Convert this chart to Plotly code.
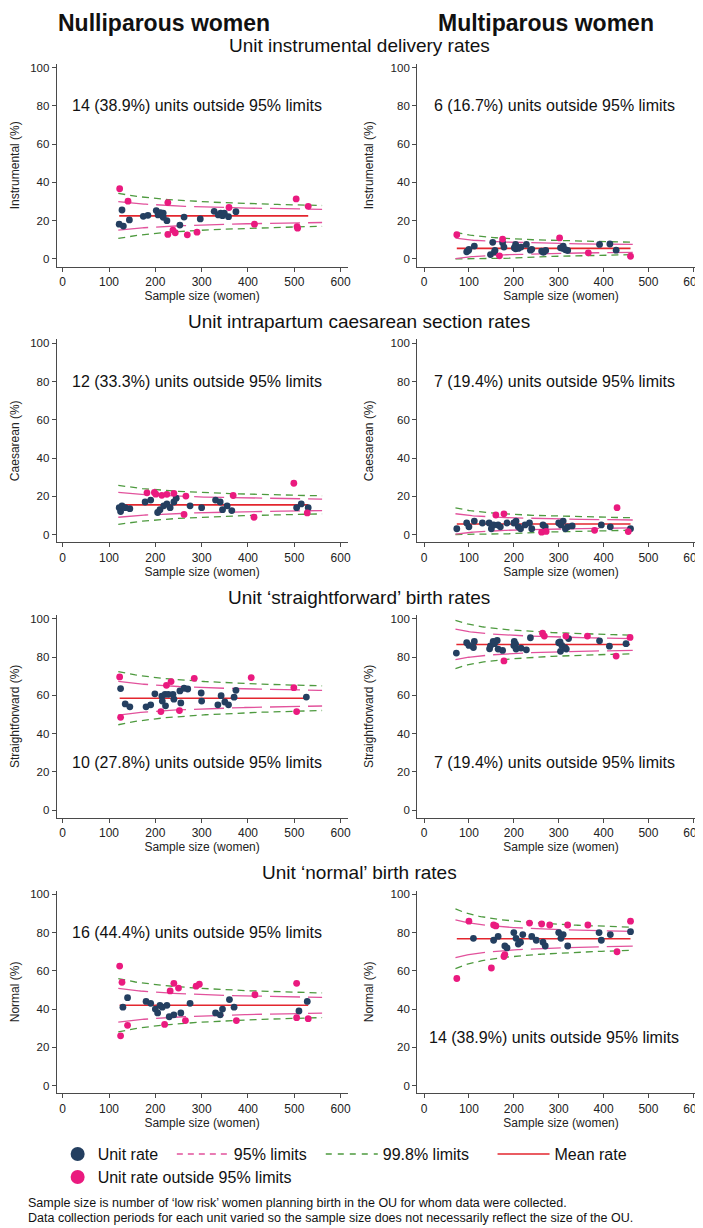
import numpy as np
import plotly.graph_objects as go
from plotly.subplots import make_subplots

W, H = 703, 1228
FONT = "Liberation Sans, Arial, sans-serif"

BLUE = "#243f60"
PINK = "#ea1a7f"
PINK_LINE = "#e2529c"
GREEN = "#4e9a3f"
RED = "#e3262e"
AXIS = "#4a4a4a"

# ---------------- data ----------------
column_titles = ["Nulliparous women", "Multiparous women"]
row_titles = ["Unit instrumental delivery rates",
              "Unit intrapartum caesarean section rates",
              "Unit \u2018straightforward\u2019 birth rates",
              "Unit \u2018normal\u2019 birth rates"]
y_titles = ["Instrumental (%)", "Caesarean (%)", "Straightforward (%)", "Normal (%)"]
x_title = "Sample size (women)"
x_ticks = [0, 100, 200, 300, 400, 500, 600]
y_ticks = [0, 20, 40, 60, 80, 100]

# Nulliparous - instrumental
nul_ins_mean = 22.5
nul_ins_n_in = [122, 128, 131, 144, 174, 184, 202, 206, 211, 217, 217, 225, 253, 262, 297, 327, 336, 341, 345, 349, 358, 374]
nul_ins_p_in = [18.2, 25.6, 17.2, 20.4, 22.3, 22.8, 25.3, 23.0, 24.2, 24.0, 21.8, 20.0, 17.7, 21.9, 20.9, 24.9, 23.0, 23.9, 22.6, 23.9, 22.1, 24.7]
nul_ins_n_out = [123, 141, 227, 227, 238, 243, 269, 290, 359, 414, 504, 507, 506, 530]
nul_ins_p_out = [36.7, 30.2, 29.5, 12.8, 15.1, 13.7, 12.6, 14.0, 26.9, 18.2, 31.4, 16.1, 16.9, 27.5]
nul_ins_note = "14 (38.9%) units outside 95% limits"

# Multiparous - instrumental
mul_ins_mean = 5.5
mul_ins_n_in = [95, 99, 100, 112, 148, 153, 157, 158, 175, 178, 201, 204, 204, 205, 210, 216, 228, 237, 240, 262, 266, 271, 304, 310, 310, 315, 320, 391, 414, 428]
mul_ins_p_in = [3.7, 4.4, 5.0, 6.7, 2.3, 8.7, 3.7, 4.4, 8.5, 6.2, 5.8, 7.6, 5.3, 6.5, 5.5, 6.2, 7.6, 4.6, 5.0, 4.1, 3.4, 4.4, 5.8, 6.7, 5.5, 4.8, 4.4, 7.6, 7.8, 4.6]
mul_ins_n_out = [73, 168, 175, 302, 366, 460]
mul_ins_p_out = [12.7, 1.6, 10.4, 11.0, 3.2, 1.4]
mul_ins_note = "6 (16.7%) units outside 95% limits"

# Nulliparous - caesarean
nul_cs_mean = 15.5
nul_cs_n_in = [122, 125, 128, 135, 145, 178, 190, 205, 210, 218, 225, 232, 240, 245, 275, 300, 330, 340, 345, 355, 365, 505, 515, 530]
nul_cs_p_in = [14, 12, 15, 14, 13.5, 17, 18, 11.5, 13, 15, 16, 14, 17, 19, 15, 14, 18, 17, 13, 15, 12.5, 14, 16, 14]
nul_cs_n_out = [182, 198, 201, 214, 225, 240, 266, 368, 499, 262, 413, 528]
nul_cs_p_out = [21.8, 22.0, 21.1, 20.5, 21.0, 21.5, 20.1, 20.4, 26.8, 10.5, 9.0, 11.3]
nul_cs_note = "12 (33.3%) units outside 95% limits"

# Multiparous - caesarean
mul_cs_mean = 5.5
mul_cs_n_in = [73, 95, 100, 112, 130, 145, 150, 155, 165, 170, 185, 200, 205, 210, 215, 225, 235, 240, 265, 270, 300, 305, 310, 315, 320, 330, 395, 415, 460]
mul_cs_p_in = [3.0, 6.0, 4.0, 7.0, 6.0, 6.0, 3.0, 5.0, 5.0, 4.0, 6.0, 6.0, 7.0, 4.0, 3.0, 5.0, 6.0, 3.0, 5.0, 4.0, 6.0, 5.0, 7.0, 3.0, 4.0, 4.5, 5.0, 4.0, 3.0]
mul_cs_n_out = [160, 178, 262, 272, 380, 430, 455]
mul_cs_p_out = [10.2, 10.8, 1.2, 1.6, 2.2, 14.0, 1.5]
mul_cs_note = "7 (19.4%) units outside 95% limits"

# Nulliparous - straightforward
nul_sf_mean = 58.5
nul_sf_n_in = [125, 199, 214, 221, 228, 238, 253, 262, 270, 299, 342, 374, 526,
               135, 145, 180, 190, 215, 222, 240, 255, 300, 335, 350, 358, 370]
nul_sf_p_in = [63.5, 60.8, 59.6, 60.5, 60.5, 60.5, 62.3, 63.7, 63.3, 61.2, 59.8, 62.6, 59.1,
               55.5, 54.0, 54.0, 55.0, 57.0, 54.5, 58.0, 56.0, 57.0, 55.0, 56.5, 55.0, 59.0]
nul_sf_n_out = [123, 224, 234, 284, 407, 499, 125, 212, 505, 252]
nul_sf_p_out = [69.6, 65.2, 67.2, 68.9, 69.3, 64.0, 48.5, 51.5, 51.5, 52.0]
nul_sf_note = "10 (27.8%) units outside 95% limits"

# Multiparous - straightforward
mul_sf_mean = 86.6
mul_sf_n_in = [72, 95, 100, 110, 112, 146, 148, 154, 157, 163, 165, 175, 200, 201, 204, 205, 216, 228, 237, 300, 303, 304, 307, 314, 317, 322, 391, 413, 450]
mul_sf_p_in = [82.1, 87.5, 86.1, 85.0, 88.2, 84.3, 85.9, 88.2, 87.0, 88.7, 84.2, 83.5, 86.0, 88.2, 86.8, 84.2, 84.7, 83.8, 90.1, 87.5, 88.0, 83.0, 86.1, 84.9, 84.2, 89.7, 88.5, 85.7, 87.0]
mul_sf_n_out = [178, 264, 268, 316, 364, 428, 459]
mul_sf_p_out = [78.0, 92.5, 91.0, 91.0, 91.0, 80.5, 90.3]
mul_sf_note = "7 (19.4%) units outside 95% limits"

# Nulliparous - normal
nul_nb_mean = 42.0
nul_nb_n_in = [130, 140, 180, 190, 200, 205, 210, 215, 225, 230, 240, 255, 275, 330, 340, 345, 360, 370, 510, 528]
nul_nb_p_in = [41, 46, 44, 43, 40, 38, 42, 41, 42, 36, 37, 38, 43, 38, 37, 40, 45, 41, 39, 44]
nul_nb_n_out = [123, 128, 125, 140, 220, 232, 240, 250, 265, 288, 295, 375, 415, 505, 505, 530]
nul_nb_p_out = [62.5, 54.0, 26.0, 31.5, 32.0, 49.5, 53.5, 51.0, 34.0, 52.0, 53.0, 34.0, 47.5, 53.5, 35.5, 35.0]
nul_nb_note = "16 (44.4%) units outside 95% limits"

# Multiparous - normal
mul_nb_mean = 76.8
mul_nb_n_in = [110, 155, 165, 180, 185, 200, 205, 210, 215, 220, 240, 250, 265, 270, 300, 305, 310, 320, 390, 395, 415, 460]
mul_nb_p_in = [77, 76, 78, 73, 72, 80, 77, 74, 75, 79, 78, 76, 75, 73, 80, 77, 79, 73, 80, 76, 79, 80.5]
mul_nb_n_out = [73, 100, 150, 155, 160, 178, 180, 235, 262, 280, 320, 365, 430, 460]
mul_nb_p_out = [56.0, 86.0, 61.5, 84.0, 83.5, 67.5, 68.5, 85.0, 84.5, 84.0, 84.0, 84.0, 70.0, 86.0]
mul_nb_note = "14 (38.9%) units outside 95% limits"

# limit ranges (sample sizes spanned by the funnel) and note heights
nul_limit_range = (120, 560)
mul_limit_range = (70, 465)
note_levels = [[80, 80], [80, 80], [25, 25], [80, 25]]

legend_labels = ["Unit rate", "95% limits", "99.8% limits", "Mean rate", "Unit rate outside 95% limits"]
footer_lines = ["Sample size is number of \u2018low risk\u2019 women planning birth in the OU for whom data were collected.",
                "Data collection periods for each unit varied so the sample size does not necessarily reflect the size of the OU."]

panels = [
    [(nul_ins_mean, nul_ins_n_in, nul_ins_p_in, nul_ins_n_out, nul_ins_p_out, nul_ins_note),
     (mul_ins_mean, mul_ins_n_in, mul_ins_p_in, mul_ins_n_out, mul_ins_p_out, mul_ins_note)],
    [(nul_cs_mean, nul_cs_n_in, nul_cs_p_in, nul_cs_n_out, nul_cs_p_out, nul_cs_note),
     (mul_cs_mean, mul_cs_n_in, mul_cs_p_in, mul_cs_n_out, mul_cs_p_out, mul_cs_note)],
    [(nul_sf_mean, nul_sf_n_in, nul_sf_p_in, nul_sf_n_out, nul_sf_p_out, nul_sf_note),
     (mul_sf_mean, mul_sf_n_in, mul_sf_p_in, mul_sf_n_out, mul_sf_p_out, mul_sf_note)],
    [(nul_nb_mean, nul_nb_n_in, nul_nb_p_in, nul_nb_n_out, nul_nb_p_out, nul_nb_note),
     (mul_nb_mean, mul_nb_n_in, mul_nb_p_in, mul_nb_n_out, mul_nb_p_out, mul_nb_note)],
]

# ---------------- figure ----------------
fig = make_subplots(rows=4, cols=2)

# pixel layout
col_px = [(47, 340), (410, 700)]
col_range = [[-13, 615], [-15.5, 626]]
row_pitch = 276


def funnel(mean, lo, hi, z):
    n = np.linspace(lo, hi, 120)
    p = mean / 100.0
    se = np.sqrt(p * (1 - p) / n) * 100
    return n, np.clip(mean + z * se, 0, 100), np.clip(mean - z * se, 0, 100)


annotations = []
for r in range(4):
    top = 54 + row_pitch * r
    bot = 257 + row_pitch * r
    for c in range(2):
        k = r * 2 + c + 1
        mean, n_in, p_in, n_out, p_out, note = panels[r][c]
        lim = nul_limit_range if c == 0 else mul_limit_range
        xa = "x" if k == 1 else f"x{k}"
        ya = "y" if k == 1 else f"y{k}"

        for z, col, dash, w in [(3.09, GREEN, "7px,5px", 1.3), (1.96, PINK_LINE, "30px,8px", 1.3)]:
            n, up, dn = funnel(mean, lim[0], lim[1], z)
            for arr in (up, dn):
                fig.add_trace(go.Scatter(x=n, y=arr, mode="lines", showlegend=False, hoverinfo="skip",
                                         line=dict(color=col, width=w, dash=dash)), row=r + 1, col=c + 1)
        all_n = list(n_in) + list(n_out)
        fig.add_trace(go.Scatter(x=[min(all_n), max(all_n)], y=[mean, mean], mode="lines", showlegend=False,
                                 line=dict(color=RED, width=1.6)), row=r + 1, col=c + 1)
        fig.add_trace(go.Scatter(x=n_in, y=p_in, mode="markers", showlegend=False,
                                 marker=dict(color=BLUE, size=6.8)), row=r + 1, col=c + 1)
        fig.add_trace(go.Scatter(x=n_out, y=p_out, mode="markers", showlegend=False,
                                 marker=dict(color=PINK, size=6.8)), row=r + 1, col=c + 1)

        x0, x1 = col_px[c]
        fig.layout[f"xaxis{'' if k == 1 else k}"].update(
            domain=[x0 / W, x1 / W], range=col_range[c], tickvals=x_ticks,
            showline=True, linecolor=AXIS, linewidth=1, ticks="outside", ticklen=4, tickcolor=AXIS,
            showgrid=False, zeroline=False, tickfont=dict(size=12, color="#222", family=FONT),
            title=dict(text=x_title, font=dict(size=12, color="#222", family=FONT), standoff=0))
        fig.layout[f"yaxis{'' if k == 1 else k}"].update(
            domain=[1 - bot / H, 1 - top / H], range=[-4, 102], tickvals=y_ticks,
            showline=True, linecolor=AXIS, linewidth=1, ticks="outside", ticklen=4, tickcolor=AXIS,
            showgrid=False, zeroline=False, tickfont=dict(size=11.5, color="#222", family=FONT),
            title=dict(text=y_titles[r], font=dict(size=12, color="#222", family=FONT), standoff=14))
        annotations.append(dict(x=290, y=note_levels[r][c], xref=xa, yref=ya, text=note, showarrow=False,
                                xanchor="center", yanchor="middle",
                                font=dict(size=16, color="#111", family=FONT)))
    annotations.append(dict(x=0.5, y=1 - (36 + row_pitch * r) / H, xref="paper", yref="paper",
                            text=row_titles[r], showarrow=False, xanchor="center", yanchor="middle",
                            font=dict(size=19, color="#111", family=FONT)))

for c, (xc, t) in enumerate(zip([155, 540], column_titles)):
    annotations.append(dict(x=xc / W, y=1 - 13 / H, xref="paper", yref="paper", text=f"<b>{t}</b>",
                            showarrow=False, xanchor="center", yanchor="middle",
                            font=dict(size=23, color="#111", family=FONT)))

for i, line in enumerate(footer_lines):
    annotations.append(dict(x=16 / W, y=1 - (1195 + 15 * i) / H, xref="paper", yref="paper", text=line,
                            showarrow=False, xanchor="left", yanchor="middle",
                            font=dict(size=12.5, color="#111", family=FONT)))

# legend entries (legend-only traces, no data), each in its own placed legend
leg_specs = [
    dict(name=legend_labels[0], mode="markers", marker=dict(color=BLUE, size=14), legend="legend"),
    dict(name=legend_labels[1], mode="lines", line=dict(color=PINK_LINE, width=1.6, dash="6px,5px"), legend="legend2"),
    dict(name=legend_labels[2], mode="lines", line=dict(color=GREEN, width=1.6, dash="6px,6px"), legend="legend3"),
    dict(name=legend_labels[3], mode="lines", line=dict(color=RED, width=1.6), legend="legend4"),
    dict(name=legend_labels[4], mode="markers", marker=dict(color=PINK, size=14), legend="legend5"),
]
for spec in leg_specs:
    fig.add_trace(go.Scatter(x=[None], y=[None], showlegend=True, **spec))


def leg(x_px, y_px, iw):
    return dict(orientation="h", xanchor="left", yanchor="middle", x=x_px / W, y=1 - y_px / H,
                font=dict(size=16, family=FONT, color="#111"), bgcolor="rgba(0,0,0,0)",
                itemwidth=iw, borderwidth=0)


fig.update_layout(
    width=W, height=H, margin=dict(l=0, r=0, t=0, b=0),
    paper_bgcolor="white", plot_bgcolor="white",
    font=dict(family=FONT, color="#111"),
    annotations=annotations,
    showlegend=True,
    legend=leg(48, 1146, 30),
    legend2=leg(163, 1146, 52),
    legend3=leg(313, 1146, 52),
    legend4=leg(486, 1146, 52),
    legend5=leg(48, 1169, 30),
)

fig.write_html("out.html")
